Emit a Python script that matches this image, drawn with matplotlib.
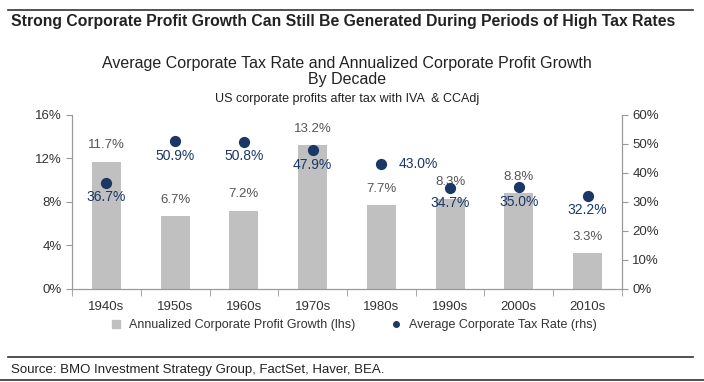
import numpy as np
import matplotlib.pyplot as plt
from matplotlib.lines import Line2D

# data
decades = ['1940s', '1950s', '1960s', '1970s', '1980s', '1990s', '2000s', '2010s']
profit_growth = [11.7, 6.7, 7.2, 13.2, 7.7, 8.3, 8.8, 3.3]
tax_rate = [36.7, 50.9, 50.8, 47.9, 43.0, 34.7, 35.0, 32.2]

plt.rcParams['font.family'] = ['Liberation Sans', 'DejaVu Sans']
grey = '#c0c0c0'
navy = '#1b3766'
txt = '#333333'
axc = '#999999'

fig = plt.figure(figsize=(7.04, 3.82), dpi=100)
ax = fig.add_axes([0.1023, 0.2435, 0.7812, 0.4555])
ax2 = ax.twinx()

x = np.arange(len(decades))
ax.bar(x, profit_growth, width=0.42, color=grey, zorder=1)
ax.set_ylim(0, 16)
ax.set_xlim(-0.5, len(decades) - 0.5)
ax.set_yticks([0, 4, 8, 12, 16])
ax.set_yticklabels([f'{v}%' for v in [0, 4, 8, 12, 16]])
ax.set_xticks(x)
ax.set_xticklabels(decades)
ax.set_xticks(np.arange(-0.5, len(decades)), minor=True)
ax.tick_params(axis='x', which='major', length=0, pad=9, labelsize=9.5, labelcolor=txt)
ax.tick_params(axis='x', which='minor', length=5, color=axc)
ax.tick_params(axis='y', length=4, color=axc, labelsize=9.5, labelcolor=txt)

# bar labels
for xi, v in zip(x, profit_growth):
    ax.text(xi, v + 0.95, f'{v}%', ha='center', va='bottom', fontsize=9.5, color='#555555')

ax2.scatter(x, tax_rate, s=50, color=navy, zorder=3)
ax2.set_ylim(0, 60)
ax2.set_yticks(range(0, 61, 10))
ax2.set_yticklabels([f'{v}%' for v in range(0, 61, 10)])
ax2.tick_params(axis='y', length=4, color=axc, labelsize=9.5, labelcolor=txt)

# dot labels
for xi, v in zip(x, tax_rate):
    if decades[xi] == '1980s':
        ax2.text(xi + 0.25, v, f'{v:.1f}%', ha='left', va='center', fontsize=10,
                 color=navy)
    else:
        ax2.text(xi, v - 2.6, f'{v:.1f}%', ha='center', va='top', fontsize=10,
                 color=navy)

for a in (ax, ax2):
    a.spines['top'].set_visible(False)
    for s in ('left', 'right', 'bottom'):
        a.spines[s].set_color(axc)

handles = [Line2D([], [], marker='s', color=grey, linestyle='none', markersize=6),
           Line2D([], [], marker='o', color=navy, linestyle='none', markersize=4)]
fig.legend(handles, ['Annualized Corporate Profit Growth (lhs)', 'Average Corporate Tax Rate (rhs)'],
           loc='center', bbox_to_anchor=(0.497, 0.149), ncol=2, frameon=False,
           fontsize=9, handletextpad=0.0, columnspacing=2.3, labelcolor=txt)

fig.text(0.015, 0.945, 'Strong Corporate Profit Growth Can Still Be Generated During Periods of High Tax Rates',
         fontsize=11.3, fontweight='bold', color='#222222', va='center')
fig.text(0.493, 0.835, 'Average Corporate Tax Rate and Annualized Corporate Profit Growth',
         fontsize=11.5, ha='center', va='center', color='#222222')
fig.text(0.493, 0.793, 'By Decade', fontsize=11.5, ha='center', va='center', color='#222222')
fig.text(0.493, 0.74, 'US corporate profits after tax with IVA  & CCAdj',
         fontsize=9, ha='center', va='center', color='#222222')
fig.text(0.015, 0.031, 'Source: BMO Investment Strategy Group, FactSet, Haver, BEA.',
         fontsize=9.5, va='center', color='#222222')

fig.add_artist(Line2D([0.012, 0.985], [0.974, 0.974], color='#333333', lw=1.2))
fig.add_artist(Line2D([0.012, 0.985], [0.065, 0.065], color='#333333', lw=1.2))
fig.add_artist(Line2D([0.0, 1.0], [0.004, 0.004], color='#333333', lw=1.2))

fig.savefig('out.png', dpi=100)
